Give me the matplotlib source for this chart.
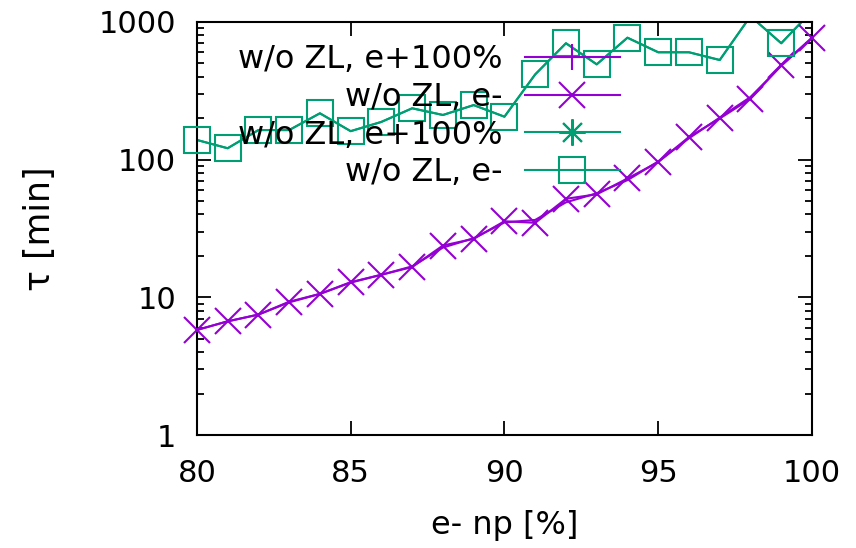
import matplotlib
matplotlib.use("Agg")
import matplotlib.pyplot as plt
from matplotlib.lines import Line2D
from matplotlib.ticker import LogLocator, NullFormatter, FixedLocator

# values
np_pct = [80, 81, 82, 83, 84, 85, 86, 87, 88, 89, 90,
          91, 92, 93, 94, 95, 96, 97, 98, 99, 100]

# purple: w/o ZL, e-  (x markers) and w/o ZL, e+100% (+, line only visible)
tau_e_minus_p = [5.8, 6.7, 7.5, 9.2, 10.6, 12.9, 14.6, 16.6, 23.8, 26.6, 35.7,
                 34.8, 52, 56, 73, 96, 146, 199, 277, 484, 770]
tau_e_plus_p = [5.8, 6.7, 7.5, 9.3, 10.6, 12.8, 14.6, 16.8, 23.0, 26.9, 35.0,
                36.5, 49, 57, 71, 97, 143, 202, 285, 480, 760]

# green: w/o ZL, e+100% (stars) and w/o ZL, e- (squares)
tau_e_plus_g = [139, 121, 164, 164, 217, 161, 188, 236, 211, 249, 205,
                416, 700, 492, 768, 602, 602, 529, 1100, 700, 1200]
tau_e_minus_g = [139, 121, 164, 164, 217, 161, 188, 236, 211, 249, 205,
                 416, 700, 492, 768, 602, 602, 529, 1100, 700, 1200]

labels = ["w/o ZL, e+100%", "w/o ZL, e-", "w/o ZL, e+100%", "w/o ZL, e-"]

PURPLE = "#9400D3"
GREEN = "#009E73"
FS = 22
MS = 19
LW = 1.5
YMIN, YMAX = 1, 1000

plt.rcParams["font.family"] = "DejaVu Sans"

fig = plt.figure(figsize=(8.56, 5.48), dpi=100)
ax = fig.add_axes([0.230, 0.206, 0.7186, 0.754])

series = [
    (tau_e_plus_p, PURPLE, "+"),
    (tau_e_minus_p, PURPLE, "x"),
    (tau_e_plus_g, GREEN, (8, 2, 0)),
    (tau_e_minus_g, GREEN, "s"),
]

# lines are clipped, markers drawn like gnuplot (only in range, not clipped)
for vals, col, mk in series:
    ax.plot(np_pct, vals, color=col, lw=LW)

for vals, col, mk in series[1::2]:
    inside = [i for i, v in enumerate(vals) if YMIN <= v <= YMAX]
    ax.plot([np_pct[i] for i in inside], [vals[i] for i in inside],
            ls="none", marker=mk, ms=MS, mew=LW, mfc="none", mec=col,
            clip_on=False, zorder=3)

handles = [Line2D([], [], color=col, lw=LW, marker=mk, ms=MS, mew=LW,
                  mfc="none", mec=col) for vals, col, mk in series]
ax.legend(handles, labels, loc="upper right", bbox_to_anchor=(0.688, 0.946),
          frameon=False, markerfirst=False, fontsize=23, handlelength=2.98,
          handletextpad=0.69, labelspacing=0.21, borderpad=0, borderaxespad=0)

ax.set_xlim(80, 100)
ax.set_yscale("log")
ax.set_ylim(YMIN, YMAX)
ax.xaxis.set_major_locator(FixedLocator([80, 85, 90, 95, 100]))
ax.yaxis.set_major_locator(FixedLocator([1, 10, 100, 1000]))
ax.set_yticklabels(["1", "10", "100", "1000"])
ax.yaxis.set_minor_locator(LogLocator(base=10, subs=range(2, 10)))
ax.yaxis.set_minor_formatter(NullFormatter())

ax.tick_params(which="both", direction="in", top=True, right=True,
               width=1.3, labelsize=FS, colors="black")
ax.tick_params(which="major", length=10)
ax.tick_params(which="minor", length=5)
ax.tick_params(axis="x", pad=17)
ax.tick_params(axis="y", pad=15)
for sp in ax.spines.values():
    sp.set_linewidth(1.5)

ax.set_xlabel("e- np [%]", fontsize=23, labelpad=16)
ax.set_ylabel("τ [min]", fontsize=25, labelpad=30)

fig.savefig("out.png", dpi=100)
